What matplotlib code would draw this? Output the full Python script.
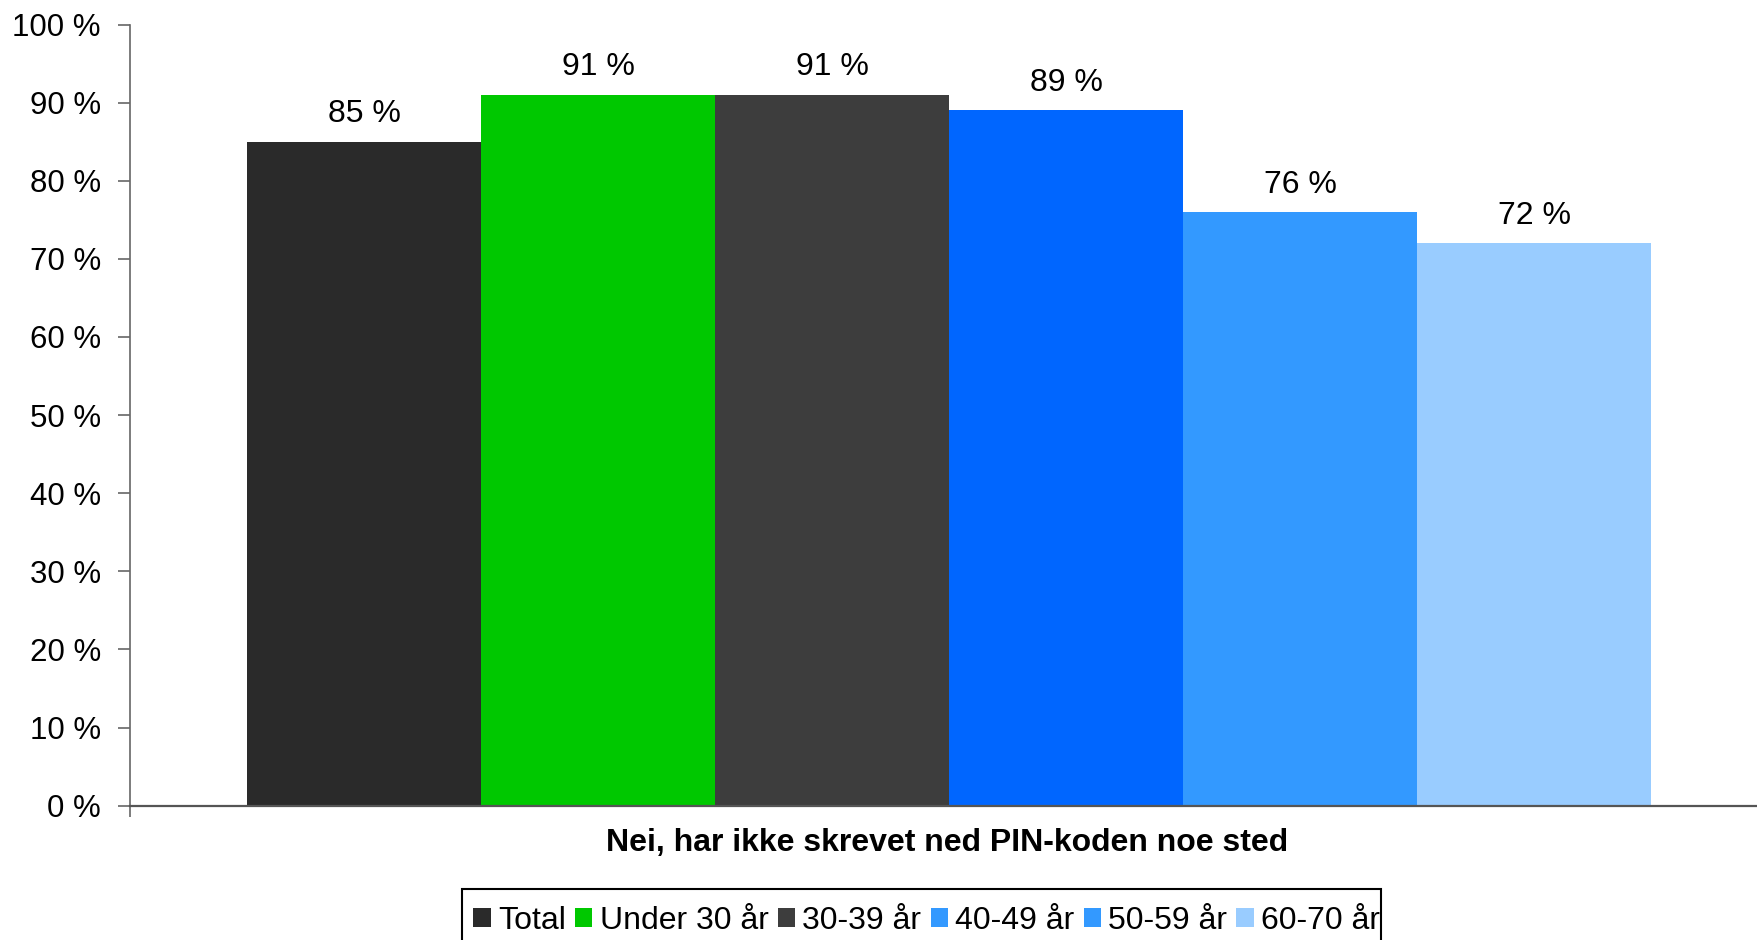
import numpy as np
import matplotlib.pyplot as plt
from matplotlib.patches import Patch, Rectangle
from matplotlib.transforms import Bbox

plt.rcParams['font.family'] = ['Liberation Sans', 'DejaVu Sans']

# data
groups = ['Total', 'Under 30 år', '30-39 år', '40-49 år', '50-59 år', '60-70 år']
values = [85, 91, 91, 89, 76, 72]
bar_colors = ['#2a2a2a', '#00c800', '#3d3d3d', '#0066ff', '#3399ff', '#99ccff']
legend_colors = ['#2a2a2a', '#00c800', '#3d3d3d', '#3399ff', '#3399ff', '#99ccff']
category = 'Nei, har ikke skrevet ned PIN-koden noe sted'
yticks = np.arange(0, 101, 10)

fig = plt.figure(figsize=(17.58, 9.40), dpi=100)
ax = fig.add_axes([0.074, 0.1429, 0.926, 0.831])

x = np.arange(len(values))
bars = ax.bar(x, values, width=1.0, align='edge', color=bar_colors, linewidth=0)

for b, v in zip(bars, values):
    ax.annotate('%d %%' % v, (b.get_x() + b.get_width() / 2, v),
                xytext=(0, 9), textcoords='offset points',
                ha='center', va='bottom', fontsize=23)

ax.set_xlim(-0.5, 6.457)
ax.set_ylim(0, 100)
ax.set_yticks(yticks)
ax.set_yticklabels(['%d %%' % t for t in yticks], fontsize=22.5)
ax.set_xticks([-0.5])
ax.set_xticklabels([''])
ax.tick_params(axis='y', length=9, width=1.2, color='#666666', pad=12)
ax.tick_params(axis='x', length=8, width=1.2, color='#666666')

for s in ['top', 'right']:
    ax.spines[s].set_visible(False)
ax.spines['left'].set_color('#666666')
ax.spines['bottom'].set_color('#555555')
ax.spines['left'].set_linewidth(1.2)
ax.spines['bottom'].set_linewidth(1.6)

fig.text(0.539, 0.103, category, ha='center', va='center',
         fontsize=23, fontweight='bold')

# legend box: drawn by hand, it runs off the bottom and cuts the last label
box_l, box_r, box_t = 0.2628, 0.7856, 0.0543
handles = [Patch(facecolor=c, edgecolor='none') for c in legend_colors]
leg = fig.legend(handles, groups, loc='upper left',
                 bbox_to_anchor=(box_l, box_t - 0.006),
                 ncol=6, fontsize=23, frameon=False,
                 handlelength=0.55, handleheight=0.55, handletextpad=0.22,
                 columnspacing=0.29, borderpad=0.35, borderaxespad=0)
fig.add_artist(Rectangle((box_l, -0.05), box_r - box_l, box_t + 0.05,
                         transform=fig.transFigure, fill=False,
                         edgecolor='black', linewidth=1.5))
clip = Bbox.from_extents(0, 0, box_r * fig.bbox.width, fig.bbox.height)
for t in leg.get_texts():
    t.set_clip_box(clip)
    t.set_clip_on(True)

fig.savefig('out.png', dpi=100)
